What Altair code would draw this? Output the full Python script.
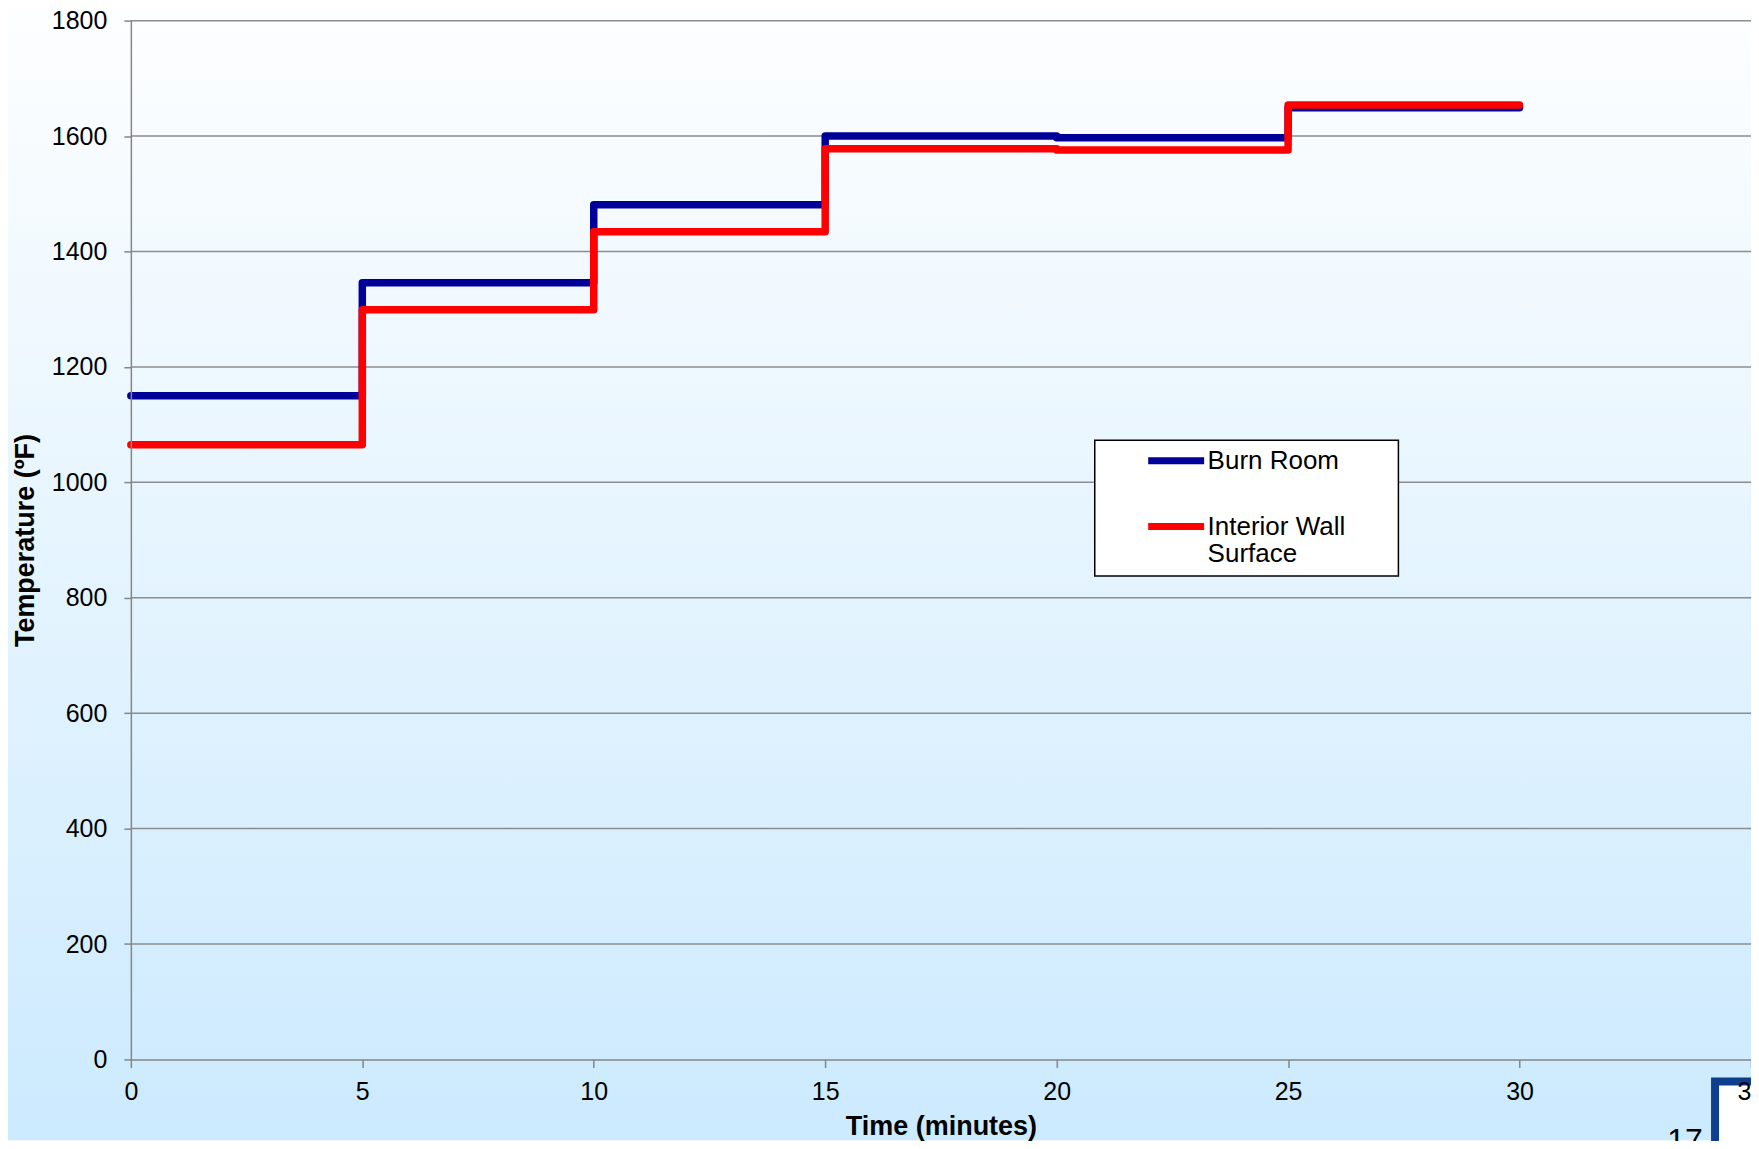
import altair as alt
import pandas as pd

# ---- data ----
time_min = [0, 5, 10, 15, 20, 25, 30]
burn_room = [1150, 1346, 1481, 1600, 1597, 1649, 1649]
interior_wall = [1065, 1299, 1434, 1578, 1576, 1654, 1654]
series_names = ["Burn Room", "Interior Wall Surface"]
series_colors = ["#000099", "#FF0000"]
x_ticks = [0, 5, 10, 15, 20, 25, 30, 35]
y_ticks = [0, 200, 400, 600, 800, 1000, 1200, 1400, 1600, 1800]
grid_values = [200, 400, 600, 800, 1000, 1200, 1400, 1600, 1800]

rows = []
for t, v in zip(time_min, burn_room):
    rows.append({"t": t, "v": v, "s": series_names[0]})
for t, v in zip(time_min, interior_wall):
    rows.append({"t": t, "v": v, "s": series_names[1]})
df = pd.DataFrame(rows)
grid_df = pd.DataFrame({"g": grid_values})

W, H = 1622, 1040
PL, PT, PR, PB = 123, 12, 0, 81
FONT = "Liberation Sans"

xscale = alt.Scale(domain=[0, 35], nice=False, zero=False)
yscale = alt.Scale(domain=[0, 1800], nice=False)

# page background gradient (decoration)
bg = alt.Chart(pd.DataFrame({"a": [0]})).mark_rect(
    color=alt.Gradient(
        gradient="linear",
        stops=[alt.GradientStop(color="#FDFEFF", offset=0),
               alt.GradientStop(color="#CCEAFE", offset=1)],
        x1=0, x2=0, y1=0, y2=1,
    )
).encode(
    x=alt.value(-PL), x2=alt.value(W + 10),
    y=alt.value(-PT), y2=alt.value(H + PB),
)

grid = alt.Chart(grid_df).mark_rule(color="#8C8C8C", strokeWidth=1.5).encode(
    y=alt.Y("g:Q", scale=yscale)
)

legend_box = alt.Chart(pd.DataFrame({"a": [0]})).mark_rect(
    fill="white", stroke="black", strokeWidth=1.5
).encode(
    x=alt.value(965), x2=alt.value(1269), y=alt.value(420), y2=alt.value(556)
)

logo = alt.Chart(pd.DataFrame({"a": [0]})).mark_rect(
    fill="white", stroke="#0E3E8E", strokeWidth=8
).encode(
    x=alt.value(1586), x2=alt.value(1650), y=alt.value(1062), y2=alt.value(1150)
)

page_num = alt.Chart(pd.DataFrame({"a": [0]})).mark_text(
    text="17", font=FONT, fontSize=32, align="center", baseline="alphabetic", color="black"
).encode(x=alt.value(1556), y=alt.value(1132))

lines = alt.Chart(df).mark_line(
    interpolate="step-after", strokeWidth=7.5, strokeCap="round", strokeJoin="round"
).encode(
    x=alt.X("t:Q", scale=xscale,
            axis=alt.Axis(values=x_ticks, title="Time (minutes)", grid=False, zindex=1,
                          labelFlush=False, format="d",
                          titleX=W / 2, titleY=75, titleBaseline="alphabetic",
                          titleAlign="center")),
    y=alt.Y("v:Q", scale=yscale,
            axis=alt.Axis(values=y_ticks, title="Temperature (ºF)", grid=False, zindex=1,
                          labelFlush=False, format="d",
                          titleAngle=270, titleX=-105, titleY=H / 2,
                          titleAlign="center", titleBaseline="middle",
                          labelPadding=17, tickSize=7)),
    color=alt.Color("s:N", scale=alt.Scale(domain=series_names, range=series_colors),
                    legend=alt.Legend(
                        title=None, orient="none", legendX=1015, legendY=409,
                        symbolType="stroke", symbolSize=3136, symbolStrokeWidth=7,
                        labelFontSize=26, labelFont=FONT, labelOffset=0,
                        labelLimit=400, rowPadding=20, padding=0,
                        labelBaseline="middle",
                        labelExpr="datum.label == 'Interior Wall Surface' ? ['Interior Wall', 'Surface'] : datum.label",
                    )),
    order=alt.Order("s:N"),
)

chart = alt.layer(bg, grid, legend_box, logo, lines, page_num).properties(
    width=W, height=H,
    autosize=alt.AutoSizeParams(type="none"),
    padding={"left": PL, "top": PT, "right": PR, "bottom": PB},
).configure(
    font=FONT,
).configure_view(
    stroke=None,
).configure_axis(
    domainColor="#868686", domainWidth=1.5,
    tickColor="#868686", tickWidth=1.5, tickSize=8,
    labelFont=FONT, labelFontSize=25, labelColor="black",
    titleFont=FONT, titleFontSize=27, titleFontWeight="bold", titleColor="black",
    labelPadding=12,
)

chart.save("out.html", embed_options={"renderer": "svg", "actions": False})
